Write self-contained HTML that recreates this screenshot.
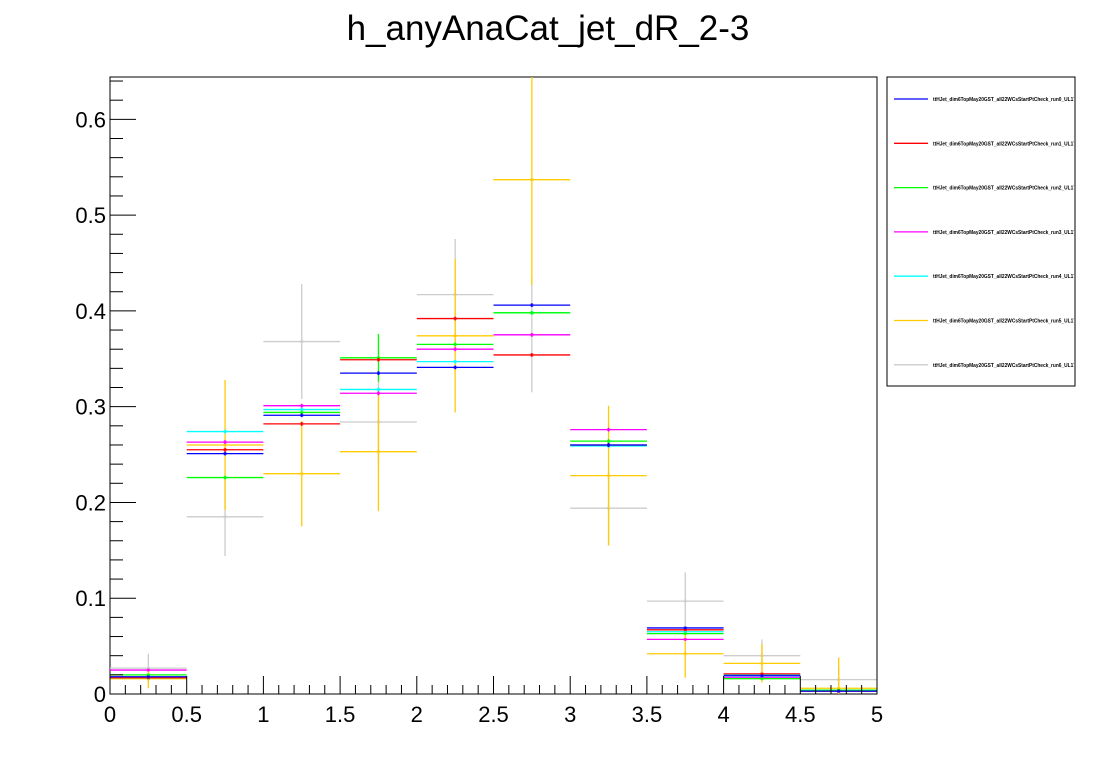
<!DOCTYPE html>
<html><head><meta charset="utf-8"><style>
body{margin:0;background:#fff;width:1096px;height:772px;overflow:hidden;font-family:"Liberation Sans",sans-serif}
</style></head><body>
<svg id="c" width="1096" height="772" xmlns="http://www.w3.org/2000/svg">
<defs><clipPath id="legclip"><rect x="887" y="77" width="187" height="309"/></clipPath></defs>
<text x="548" y="40" font-size="35" text-anchor="middle" font-family="Liberation Sans, sans-serif">h_anyAnaCat_jet_dR_2-3</text>
<rect x="110" y="77" width="767" height="617" fill="none" stroke="#000" stroke-width="1"/>
<rect x="887" y="77" width="188" height="309" fill="#fff" stroke="#000" stroke-width="1"/>
<g id="marks"></g><g id="axes"></g><g id="leg" clip-path="url(#legclip)"></g>
</svg>
<script>
const binCenters=[0.25,0.75,1.25,1.75,2.25,2.75,3.25,3.75,4.25,4.75];
const seriesNames=["run0","run1","run2","run3","run4","run5","run6"];
const run0=[0.018,0.251,0.291,0.335,0.341,0.406,0.260,0.069,0.019,0.003];
const run1=[0.017,0.255,0.282,0.349,0.392,0.354,0.260,0.067,0.021,0.003];
const run2=[0.020,0.226,0.294,0.351,0.365,0.398,0.264,0.063,0.016,0.004];
const run3=[0.025,0.263,0.301,0.314,0.360,0.375,0.276,0.057,0.017,0.003];
const run4=[0.017,0.274,0.297,0.318,0.347,0.398,0.259,0.065,0.020,0.003];
const run5=[0.016,0.260,0.230,0.253,0.374,0.537,0.228,0.042,0.032,0.006];
const run6=[0.027,0.185,0.368,0.284,0.417,0.375,0.194,0.097,0.040,0.015];
const err0=[0.001,0.002,0.002,0.002,0.002,0.002,0.002,0.001,0.001,0.001];
const err1=[0.001,0.002,0.002,0.002,0.002,0.002,0.002,0.001,0.001,0.001];
const err2=[0.001,0.002,0.002,0.025,0.002,0.002,0.002,0.001,0.001,0.001];
const err3=[0.001,0.002,0.002,0.002,0.002,0.002,0.002,0.001,0.001,0.001];
const err4=[0.001,0.002,0.002,0.002,0.002,0.002,0.002,0.001,0.001,0.001];
const err5=[0.010,0.068,0.055,0.062,0.080,0.110,0.073,0.025,0.020,0.032];
const err6=[0.015,0.041,0.060,0.045,0.058,0.060,0.039,0.030,0.017,0.012];
const colors=["#0000ff","#ff0000","#00ff00","#ff00ff","#00ffff","#ffcc00","#cccccc"];
const drawOrder=[6,5,4,3,2,1,0];
const xTickLabels=["0","0.5","1","1.5","2","2.5","3","3.5","4","4.5","5"];
const yTickLabels=["0","0.1","0.2","0.3","0.4","0.5","0.6"];
const NS="http://www.w3.org/2000/svg";
const X0=110,X1=877,Y0=694,YT=77,XMAX=5,YMAX=0.6442;
const sx=v=>X0+(X1-X0)*v/XMAX;
const sy=v=>Y0-(Y0-YT)*v/YMAX;
const vals=[run0,run1,run2,run3,run4,run5,run6];
const errs=[err0,err1,err2,err3,err4,err5,err6];
function mk(tag,attrs,parent){const e=document.createElementNS(NS,tag);for(const k in attrs)e.setAttribute(k,attrs[k]);parent.appendChild(e);return e;}
const marks=document.getElementById('marks');
const hw=0.25;
drawOrder.forEach(s=>{
  const g=mk('g',{},marks);
  
  
  binCenters.forEach((c,i)=>{
    const v=vals[s][i],e=errs[s][i];
    const cy=sy(v);
    const h=mk('line',{x1:sx(c-hw),x2:sx(c+hw),y1:cy,y2:cy,stroke:colors[s],'stroke-width':1.3},g);
    
    
    const lo=Math.max(0,v-e),hi=Math.min(YMAX,v+e);
    mk('line',{x1:sx(c),x2:sx(c),y1:sy(lo),y2:sy(hi),stroke:colors[s],'stroke-width':1.3},g);
    mk('rect',{x:sx(c)-1.5,y:cy-1.5,width:3,height:3,fill:colors[s],opacity:0.6},g);
  });
});
const ax=document.getElementById('axes');
for(let k=0;k<=50;k++){
  const v=k*0.1,x=sx(v),major=k%5===0;
  mk('line',{x1:x,x2:x,y1:Y0,y2:Y0-(major?18:9),stroke:'#000','stroke-width':1},ax);
}
xTickLabels.forEach((t,i)=>{
  const el=mk('text',{x:sx(i*0.5),y:Y0+28,'font-size':22,'text-anchor':'middle'},ax);
  el.textContent=t;
  
  
});
for(let k=0;k*0.02<=YMAX;k++){
  const v=k*0.02,y=sy(v),major=k%5===0;
  mk('line',{x1:X0,x2:X0+(major?26:13),y1:y,y2:y,stroke:'#000','stroke-width':1},ax);
}
yTickLabels.forEach((t,i)=>{
  const el=mk('text',{x:X0-4,y:sy(i*0.1)+8,'font-size':22,'text-anchor':'end'},ax);
  el.textContent=t;
  
  
});
const leg=document.getElementById('leg');
seriesNames.forEach((n,i)=>{
  const y=99+i*44.3;
  const g=mk('g',{},leg);
  
  
  mk('line',{x1:894,x2:928,y1:y,y2:y,stroke:colors[i],'stroke-width':1.3},g);
  const t=mk('text',{x:933,y:y+2,'font-size':5.6,'font-weight':'bold',textLength:143,lengthAdjust:'spacingAndGlyphs'},g);
  t.textContent='ttHJet_dim6TopMay20GST_all22WCsStartPtCheck_'+n+'_UL17';
});
</script>
</body></html>
